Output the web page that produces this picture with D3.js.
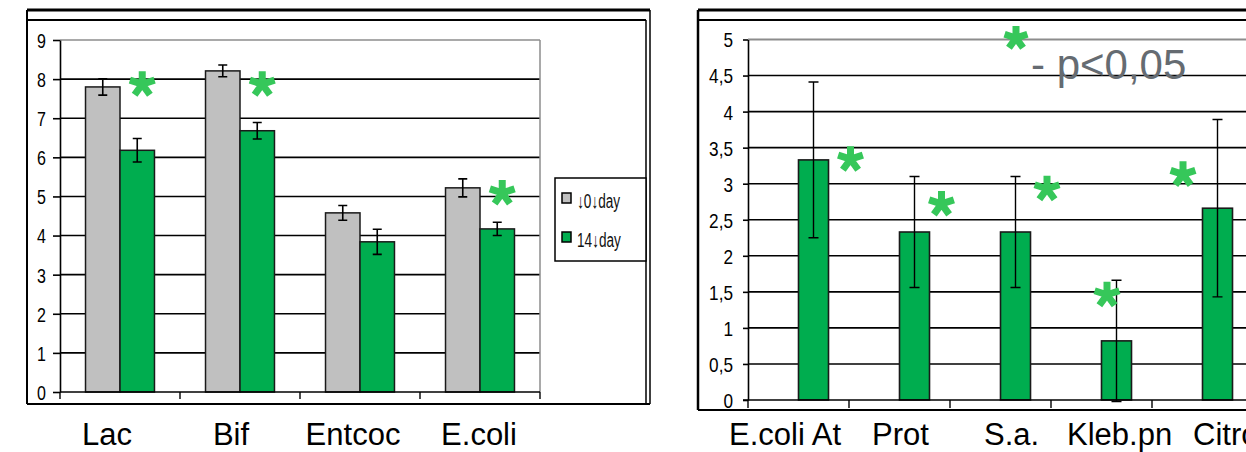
<!DOCTYPE html>
<html lang="en">
<head>
<meta charset="UTF-8" />
<title>Chart</title>
<script src="https://cdn.jsdelivr.net/npm/d3@7"></script>
<style>
  body { margin: 0; background: #fff; }
  svg { display: block; font-family: "Liberation Sans", Arial, sans-serif; }
</style>
</head>
<body>
<svg id="chart" width="1246" height="452"></svg>
<script>
// left chart data
const leftCats = ["Lac", "Bif", "Entcoc", "E.coli"];
const leftSeries = ["\u21930\u2193day", "14\u2193day"];
const day0 = [7.8, 8.21, 4.58, 5.22];
const day0Err = [0.21, 0.15, 0.19, 0.23];
const day14 = [6.18, 6.68, 3.84, 4.17];
const day14Err = [0.3, 0.21, 0.32, 0.17];
const leftStarCats = ["Lac", "Bif", "E.coli"];
const leftStarLevel = [7.87, 7.87, 5.09];

// right chart data
const rightCats = ["E.coli At", "Prot", "S.a.", "Kleb.pn", "Citrob."];
const rightVals = [3.33, 2.33, 2.33, 0.82, 2.66];
const rightErr = [1.08, 0.77, 0.77, 0.84, 1.23];
const rightStarLevel = [3.34, 2.72, 2.93, 1.46, 3.13];
const rightTicks = [0, 0.5, 1, 1.5, 2, 2.5, 3, 3.5, 4, 4.5, 5];

const GRAY = "#c0c0c0", GREEN = "#00ad4f", STAR = "#36c75a";
const svg = d3.select("#chart");

// 5-arm asterisk, like the big "*" on the slide
function starPath(r) {
  const p = d3.path();
  for (let k = 0; k < 5; k++) {
    const a = (-90 + 72 * k) * Math.PI / 180;
    p.moveTo(0, 0);
    p.lineTo(r * Math.cos(a), r * Math.sin(a));
  }
  return p.toString();
}
function star(g, x, y, r) {
  g.append("path").attr("d", starPath(r))
    .attr("transform", `translate(${x},${y})`)
    .attr("stroke", STAR).attr("stroke-width", 7).attr("fill", "none");
}
function line(g, x1, y1, x2, y2, w, c) {
  return g.append("line").attr("x1", x1).attr("y1", y1).attr("x2", x2).attr("y2", y2)
    .attr("stroke", c || "#000").attr("stroke-width", w);
}

// ---------------- left chart ----------------
const L = svg.append("g");
// slide frame
line(L, 27, 10, 650, 10, 3);
line(L, 27, 10, 27, 404, 2);
line(L, 650, 10, 650, 404, 1.5);
line(L, 27, 404, 650, 404, 2);
line(L, 27, 20, 646, 20, 2);
line(L, 646, 20, 646, 404, 1.5);

const xL = d3.scaleBand().domain(leftCats).range([60, 540]).padding(0);
const xL1 = d3.scaleBand().domain(leftSeries).range([0, xL.bandwidth()])
  .paddingInner(0).paddingOuter(0.74);
const yL = d3.scaleLinear().domain([0, 9]).range([392, 40]);

// gridlines
L.selectAll(".grid").data(d3.range(1, 9)).join("line")
  .attr("x1", 60).attr("x2", 540)
  .attr("y1", d => yL(d)).attr("y2", d => yL(d))
  .attr("stroke", "#000").attr("stroke-width", 1.6);
line(L, 60, yL(9), 540, yL(9), 1.5, "#8c8c8c");
line(L, 540, yL(9), 540, 392, 1.5, "#8c8c8c");

// y axis
const axL = L.append("g").attr("transform", "translate(60,0)")
  .call(d3.axisLeft(yL).tickValues(d3.range(0, 10)).tickSize(7).tickSizeOuter(0));
axL.select(".domain").attr("stroke-width", 1.6);
axL.selectAll(".tick line").attr("stroke-width", 1.6);
axL.selectAll(".tick text").attr("x", -14 / 0.8).attr("dy", "0.37em")
  .attr("transform", "scale(0.8,1)")
  .attr("font-size", 20).attr("font-family", "Liberation Sans, Arial").attr("fill", "#000");

// bars
const leftRows = leftCats.map((c, i) => ({
  cat: c,
  vals: [{ s: leftSeries[0], v: day0[i], e: day0Err[i], fill: GRAY },
         { s: leftSeries[1], v: day14[i], e: day14Err[i], fill: GREEN }]
}));
const gL = L.selectAll(".grp").data(leftRows).join("g")
  .attr("transform", d => `translate(${xL(d.cat)},0)`);
gL.selectAll("rect").data(d => d.vals).join("rect")
  .attr("x", d => xL1(d.s)).attr("width", xL1.bandwidth())
  .attr("y", d => yL(d.v)).attr("height", d => yL(0) - yL(d.v))
  .attr("fill", d => d.fill).attr("stroke", "#1a1a1a").attr("stroke-width", 1.5);
gL.selectAll(".err").data(d => d.vals).join("path")
  .attr("d", d => {
    const cx = xL1(d.s) + xL1.bandwidth() / 2, t = yL(d.v + d.e), b = yL(d.v - d.e);
    return `M${cx - 4.5},${t}H${cx + 4.5}M${cx},${t}V${b}M${cx - 4.5},${b}H${cx + 4.5}`;
  })
  .attr("stroke", "#000").attr("stroke-width", 1.6).attr("fill", "none");

// x axis
line(L, 60, 392, 540, 392, 1.6);
xL.domain().concat([null]).forEach(c => {
  const x = c === null ? 540 : xL(c);
  line(L, x, 392, x, 399, 1.4);
});
const leftLabelDx = [-13, -9, -7, -1];
L.selectAll(".xlab").data(leftCats).join("text")
  .attr("x", (d, i) => xL(d) + xL.bandwidth() / 2 + leftLabelDx[i]).attr("y", 445)
  .attr("text-anchor", "middle").attr("font-size", 31).attr("fill", "#000").text(d => d);

// stars
leftStarCats.forEach((c, i) => {
  star(L, xL(c) + xL1(leftSeries[1]) + xL1.bandwidth() / 2 + 5, yL(leftStarLevel[i]), 13);
});

// legend
L.append("rect").attr("x", 555).attr("y", 178).attr("width", 91).attr("height", 83)
  .attr("fill", "#fff").attr("stroke", "#000").attr("stroke-width", 1.5);
leftSeries.forEach((s, i) => {
  const y0 = 193 + i * 39;
  L.append("rect").attr("x", 562).attr("y", y0).attr("width", 9).attr("height", 10)
    .attr("fill", i === 0 ? GRAY : GREEN).attr("stroke", "#000").attr("stroke-width", 1.5);
  L.append("text").attr("transform", `translate(577,${y0 + 15}) scale(0.68,1)`)
    .attr("font-size", 20).attr("fill", "#111").text(s);
});

// ---------------- right chart ----------------
const R = svg.append("g");
line(R, 698, 10, 1246, 10, 3);
line(R, 698, 20, 1246, 20, 2);
line(R, 698, 10, 698, 410, 2.5);
line(R, 698, 410, 1246, 410, 2);

const xR = d3.scaleBand().domain(rightCats).range([748, 748 + 5 * 101]).padding(0);
const xR1 = d3.scaleBand().domain(["blank", "after"]).range([0, xR.bandwidth()])
  .paddingInner(0).paddingOuter(0.683);
const yR = d3.scaleLinear().domain([0, 5]).range([400, 39.5]);

R.selectAll(".grid").data(rightTicks.filter(d => d > 0 && d < 5)).join("line")
  .attr("x1", 748).attr("x2", 1253)
  .attr("y1", d => yR(d)).attr("y2", d => yR(d))
  .attr("stroke", "#000").attr("stroke-width", 1.6);
line(R, 748, yR(5), 1253, yR(5), 1.8, "#8c8c8c");

const axR = R.append("g").attr("transform", "translate(748,0)")
  .call(d3.axisLeft(yR).tickValues(rightTicks).tickSize(5).tickSizeOuter(0)
    .tickFormat(d => String(d).replace(".", ",")));
axR.select(".domain").attr("stroke-width", 1.6);
axR.selectAll(".tick line").attr("stroke-width", 1.6);
axR.selectAll(".tick text").attr("x", -15 / 0.86).attr("dy", "0.37em")
  .attr("transform", "scale(0.86,1)")
  .attr("font-size", 20).attr("font-family", "Liberation Sans, Arial").attr("fill", "#000");

const rightRows = rightCats.map((c, i) => ({ cat: c, v: rightVals[i], e: rightErr[i], lvl: rightStarLevel[i] }));
const bx = d => xR(d.cat) + xR1("after");
R.selectAll(".bar").data(rightRows).join("rect")
  .attr("x", bx).attr("width", xR1.bandwidth())
  .attr("y", d => yR(d.v)).attr("height", d => yR(0) - yR(d.v))
  .attr("fill", GREEN).attr("stroke", "#1a1a1a").attr("stroke-width", 1.6);
R.selectAll(".err").data(rightRows).join("path")
  .attr("d", d => {
    const cx = bx(d) + xR1.bandwidth() / 2, t = yR(d.v + d.e), b = yR(d.v - d.e);
    return `M${cx - 5},${t}H${cx + 5}M${cx},${t}V${b}M${cx - 5},${b}H${cx + 5}`;
  })
  .attr("stroke", "#000").attr("stroke-width", 1.4).attr("fill", "none");

line(R, 743, 400, 1253, 400, 1.6);
xR.domain().forEach(c => line(R, xR(c), 400, xR(c), 408, 1.4));

const rightLabelDx = [-19, 23, 34, 16, 41];
R.selectAll(".xlab").data(rightCats).join("text")
  .attr("x", (d, i) => xR(d) + rightLabelDx[i]).attr("y", 445)
  .attr("font-size", 31).attr("fill", "#000").text(d => d);

const rightStarDx = [37, 27, 31.5, -9.5, -34.5];
rightRows.forEach((d, i) => {
  star(R, bx(d) + xR1.bandwidth() / 2 + rightStarDx[i], yR(d.lvl), 13);
});

// significance note
star(R, 1016, 38, 12);
R.append("text").attr("x", 1031).attr("y", 79).attr("font-size", 42)
  .attr("fill", "#656b71").text("- p<0,05");
</script>
</body>
</html>
